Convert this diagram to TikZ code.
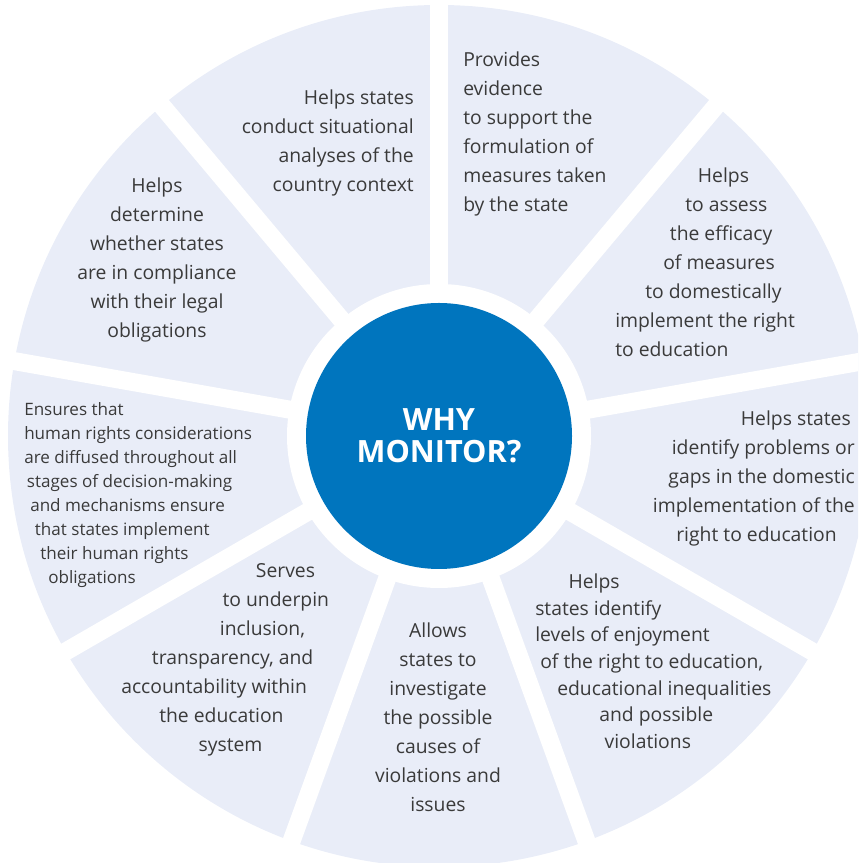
\documentclass[tikz,border=0pt]{standalone}
\usepackage{fontspec}
\setmainfont{Open Sans}
\definecolor{sectorfill}{HTML}{E9EDF8}
\definecolor{monitorblue}{HTML}{0075BE}
\definecolor{textgray}{HTML}{3A3A3A}
\tikzset{
  gapline/.style={white, line width=13.5pt},
  reason/.style={text=textgray, inner sep=0pt, font=\fontsize{14.5}{21.75}\selectfont},
}

\begin{document}
\begin{tikzpicture}[x=0.75pt,y=0.75pt]
  \useasboundingbox (0,0) rectangle (858,863);
  \clip (0,0) rectangle (858,863);
  \fill[sectorfill] (439,427) circle[radius=431];
  \foreach \a in {10,50,...,330}
    \draw[gapline] (439,427) -- ++(\a:470);
  \fill[white] (439,427) circle[radius=152];
  \node[circle, fill=monitorblue, minimum size=199.5pt, inner sep=0pt, text=white,
        font=\bfseries\fontsize{23}{24}\selectfont, align=center] (why) at (439,427) {WHY\\MONITOR?};
  \node[reason, align=right, anchor=north east] (situation) at (414,773.5)
    {Helps states\\conduct situational\\analyses of the\\country context};
  \node[reason, align=left, anchor=north west] (evidence) at (463,811.5)
    {Provides\\evidence\\to support the\\formulation of\\measures taken\\by the state};
  \node[reason, align=left, anchor=north west] (efficacy) at (615,695.5)
    {\hspace*{62pt}Helps\\\hspace*{52.5pt}to assess\\\hspace*{41pt}the efficacy\\\hspace*{36pt}of measures\\\hspace*{22.5pt}to domestically\\implement the right\\to education};
  \node[reason, align=right, anchor=north east] (gaps) at (855,452.5)
    {Helps states\hspace*{3pt}\\identify problems or\\gaps in the domestic\hspace*{6.75pt}\\implementation of the\hspace*{6.75pt}\\right to education\hspace*{13.5pt}};
  \node[reason, font=\fontsize{14.5}{20}\selectfont, align=left, anchor=north west] (enjoyment) at (535,289.5)
    {\hspace*{25pt}Helps\\states identify\\levels of enjoyment\\\hspace*{3.75pt}of the right to education,\\\hspace*{16.5pt}educational inequalities\\\hspace*{48pt}and possible\\\hspace*{52pt}violations};
  \node[reason, align=center, anchor=north] (causes) at (438,240.5)
    {Allows\\states to\\investigate\\the possible\\causes of\\violations and\\issues};
  \node[reason, align=left, anchor=north west] (inclusion) at (121,299.5)
    {\hspace*{101pt}Serves\\\hspace*{76pt}to underpin\\\hspace*{74pt}inclusion,\\\hspace*{23pt}transparency, and\\accountability within\\\hspace*{28.5pt}the education\\\hspace*{58pt}system};
  \node[reason, font=\fontsize{12.8}{18}\selectfont, align=left, anchor=north west] (rights) at (24,461)
    {Ensures that\\human rights considerations\\are diffused throughout all\\\hspace*{2pt}stages of decision-making\\\hspace*{4.5pt}and mechanisms ensure\\\hspace*{8pt}that states implement\\\hspace*{12pt}their human rights\\\hspace*{18pt}obligations};
  \node[reason, align=center, anchor=north] (compliance) at (157,685.5)
    {Helps\\determine\\whether states\\are in compliance\\with their legal\\obligations};
\end{tikzpicture}
\end{document}
